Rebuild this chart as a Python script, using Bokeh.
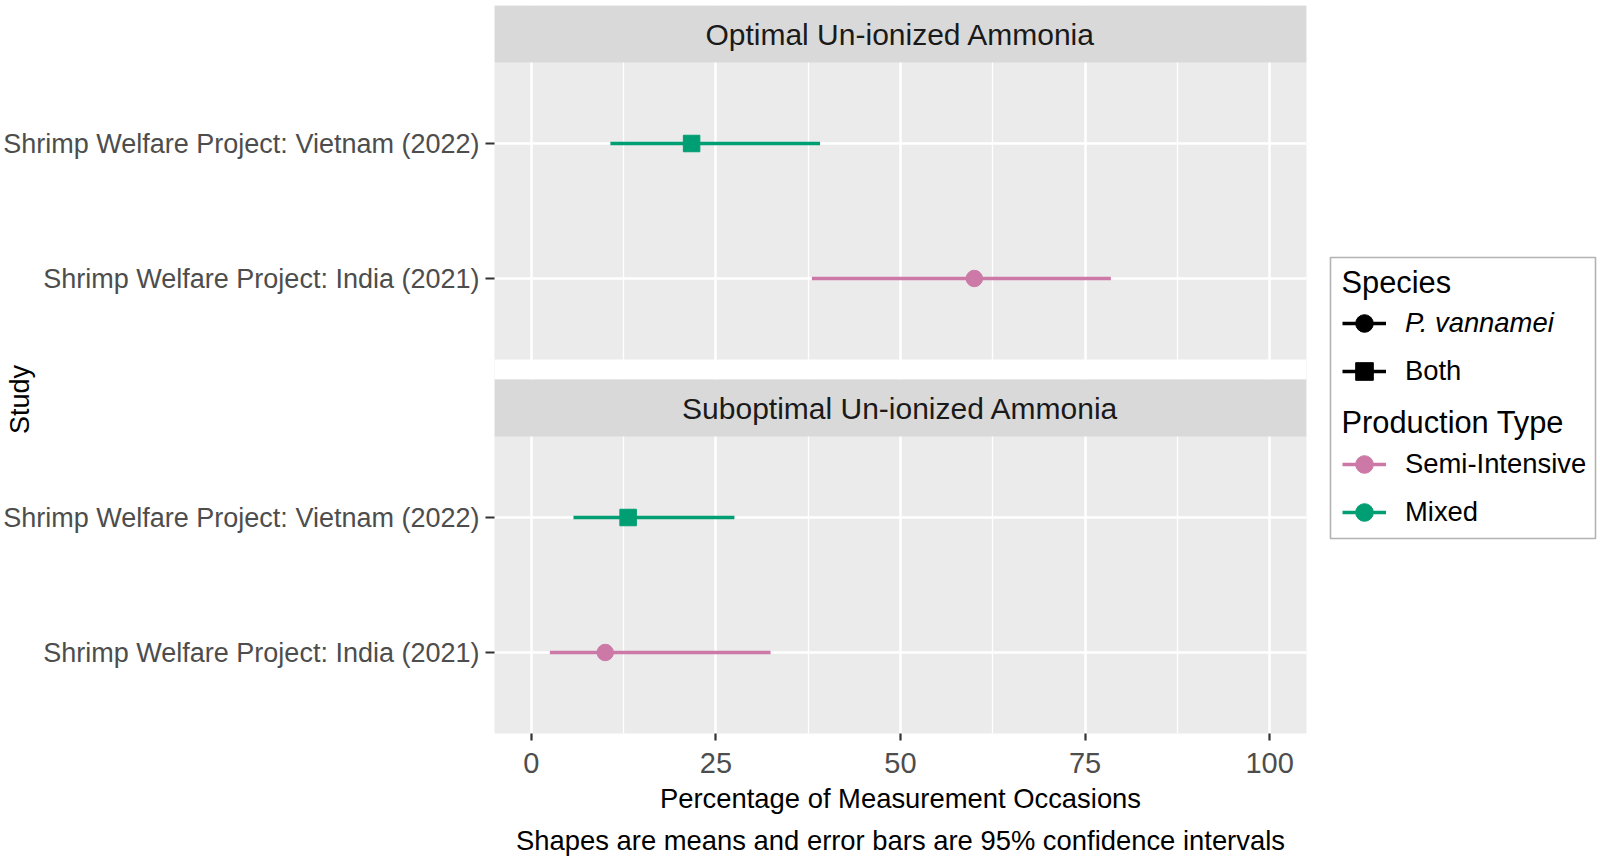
import numpy as np
from bokeh.plotting import figure
from bokeh.models import (Range1d, FixedTicker, BoxAnnotation, Label, Title,
                          Legend, LegendItem, ColumnDataSource)
from bokeh.layouts import row
from bokeh.embed import file_html
from bokeh.resources import INLINE

# ---------------- data ----------------
facets = ["Optimal Un-ionized Ammonia", "Suboptimal Un-ionized Ammonia"]
studies = ["Shrimp Welfare Project: India (2021)",      # lower level
           "Shrimp Welfare Project: Vietnam (2022)"]    # upper level

row_facet = [0, 0, 1, 1]
row_study = [1, 0, 1, 0]
means = [21.7, 60.0, 13.1, 10.0]
lower = [10.7, 38.0, 5.7, 2.5]
upper = [39.1, 78.5, 27.5, 32.4]
species = ["Both", "P. vannamei", "Both", "P. vannamei"]
production = ["Mixed", "Semi-Intensive", "Mixed", "Semi-Intensive"]

species_levels = ["P. vannamei", "Both"]
species_markers = {"P. vannamei": "circle", "Both": "square"}
production_levels = ["Semi-Intensive", "Mixed"]
production_colors = {"Semi-Intensive": "#CC79A7", "Mixed": "#009E73"}

x_ticks = [0, 25, 50, 75, 100]
x_minor = [12.5, 37.5, 62.5, 87.5]

x_title = "Percentage of Measurement Occasions"
y_title = "Study"
caption = "Shapes are means and error bars are 95% confidence intervals"
legend_titles = ["Species", "Production Type"]

# ---------------- layout constants (px) ----------------
FONT = "Liberation Sans"
PANEL_H = 297
STRIP_H = 57
GAP = 20
FRAME_H = 2 * PANEL_H + 2 * STRIP_H + GAP   # 728
FRAME_W = 812
TOP = 5
LEFT = 494
RIGHT = 22
MAIN_W = LEFT + FRAME_W + RIGHT
MAIN_H = 862
BOTTOM = MAIN_H - FRAME_H - TOP
TOTAL_W = 1600


def panel_bottom(f):
    return 0 if f == 1 else PANEL_H + STRIP_H + GAP


def level_y(f, lvl):
    return round(panel_bottom(f) + (lvl + 0.6) / 2.2 * PANEL_H, 3)


ys = [level_y(f, s) for f, s in zip(row_facet, row_study)]
src = ColumnDataSource(dict(
    y=ys, mean=means, lo=lower, hi=upper,
    color=[production_colors[p] for p in production],
    marker=[species_markers[s] for s in species],
))

p = figure(width=MAIN_W, height=MAIN_H, title=None,
           x_range=Range1d(-5, 105), y_range=Range1d(0, FRAME_H),
           min_border_left=LEFT, min_border_right=RIGHT,
           min_border_top=TOP, min_border_bottom=BOTTOM,
           toolbar_location=None, output_backend="svg")
p.background_fill_color = "#EBEBEB"
p.border_fill_color = "white"
p.outline_line_color = None

# grids
p.xaxis.ticker = FixedTicker(ticks=x_ticks, minor_ticks=x_minor)
p.xgrid.grid_line_color = "white"
p.xgrid.grid_line_width = 2.5
p.xgrid.minor_grid_line_color = "white"
p.xgrid.minor_grid_line_width = 1.3

y_ticks = sorted(set(ys))
overrides = {}
for f in (0, 1):
    for lvl, name in enumerate(studies):
        overrides[level_y(f, lvl)] = name
p.yaxis.ticker = FixedTicker(ticks=y_ticks)
p.yaxis.major_label_overrides = overrides
p.ygrid.grid_line_color = "white"
p.ygrid.grid_line_width = 2.5

# facet strips and the gap between the panels
top_strip_bottom = 2 * PANEL_H + STRIP_H + GAP
p.add_layout(BoxAnnotation(bottom=top_strip_bottom, fill_color="#D9D9D9",
                           fill_alpha=1, line_color=None))
p.add_layout(BoxAnnotation(bottom=PANEL_H + STRIP_H, top=PANEL_H + STRIP_H + GAP,
                           fill_color="white", fill_alpha=1, line_color=None))
p.add_layout(BoxAnnotation(bottom=PANEL_H, top=PANEL_H + STRIP_H,
                           fill_color="#D9D9D9", fill_alpha=1, line_color=None))
strip_centers = [top_strip_bottom + STRIP_H / 2, PANEL_H + STRIP_H / 2]
for name, yc in zip(facets, strip_centers):
    p.add_layout(Label(x=50, y=yc, text=name, text_align="center",
                       text_baseline="middle", text_font=FONT,
                       text_font_size="30px", text_color="#1A1A1A"))

# data marks
p.segment(x0="lo", x1="hi", y0="y", y1="y", line_color="color",
          line_width=3.3, source=src)
p.scatter(x="mean", y="y", marker="marker", size=16.5, fill_color="color",
          line_color="color", source=src)

# axes
for ax in (p.xaxis, p.yaxis):
    ax.axis_line_color = None
    ax.major_tick_line_color = "#333333"
    ax.major_tick_line_width = 2.2
    ax.major_tick_in = 0
    ax.minor_tick_line_color = None
    ax.major_label_text_font = FONT
    ax.major_label_text_color = "#4D4D4D"
    ax.axis_label_text_font = FONT
    ax.axis_label_text_font_size = "27px"
    ax.axis_label_text_font_style = "normal"
    ax.axis_label_text_color = "black"

p.xaxis.major_label_text_font_size = "29px"
p.xaxis.major_tick_out = 7
p.xaxis.major_label_standoff = 12
p.xaxis.axis_label = x_title
p.xaxis.axis_label_text_font_size = "27.4px"
p.xaxis.axis_label_standoff = 7

p.yaxis.major_label_text_font_size = "27px"
p.yaxis.major_tick_out = 9
p.yaxis.major_label_standoff = 6
# trailing no-break spaces push the rotated title down to the panels' centre
p.yaxis.axis_label = y_title + "\u00a0" * 8
p.yaxis.axis_label_standoff = -35

p.add_layout(Title(text=caption, align="center", text_font=FONT,
                   text_font_size="27.4px", text_font_style="normal",
                   text_color="black", standoff=13), "below")

# ---------------- legend panel ----------------
LEG_W = TOTAL_W - MAIN_W
lf = figure(width=LEG_W, height=MAIN_H, title=None,
            x_range=Range1d(0, LEG_W), y_range=Range1d(0, FRAME_H),
            min_border_left=0, min_border_right=0, min_border_top=TOP,
            min_border_bottom=BOTTOM, x_axis_type=None, y_axis_type=None,
            toolbar_location=None, output_backend="svg")
lf.outline_line_color = None
lf.background_fill_color = "white"
lf.border_fill_color = "white"
lf.xgrid.visible = False
lf.ygrid.visible = False

# legend box (frame-pixel coordinates, measured from the frame bottom)
lf.add_layout(BoxAnnotation(left=2, right=267, bottom=195, top=476,
                            fill_color="white", fill_alpha=1,
                            line_color="black", line_width=1.6))

nan = np.array([np.nan])


def legend_item(label, marker, color, center_y, italic=False):
    r1 = lf.line(x=nan, y=nan, line_color=color, line_width=3.3)
    r2 = lf.scatter(x=nan, y=nan, marker=marker, size=16, fill_color=color,
                    line_color=color)
    leg = Legend(items=[LegendItem(label=label, renderers=[r1, r2])],
                 location=(14, center_y - 22), padding=0, spacing=0, margin=0,
                 glyph_width=44, glyph_height=44, label_height=44,
                 label_standoff=19, label_text_font=FONT,
                 label_text_font_size="27.4px", label_text_color="black",
                 label_text_font_style="italic" if italic else "normal",
                 background_fill_alpha=0, border_line_alpha=0)
    lf.add_layout(leg)


item_centers = {"P. vannamei": 410, "Both": 362, "Semi-Intensive": 269, "Mixed": 221}
for s in species_levels:
    legend_item(s, species_markers[s], "black", item_centers[s],
                italic=(s == "P. vannamei"))
for pt in production_levels:
    legend_item(pt, "circle", production_colors[pt], item_centers[pt])

for txt, yc in zip(legend_titles, (451, 311)):
    lf.add_layout(Label(x=13, y=yc, text=txt, text_align="left",
                        text_baseline="middle", text_font=FONT,
                        text_font_size="30.8px", text_color="black"))

layout = row(p, lf)
open("out.html", "w").write(file_html(layout, INLINE))
